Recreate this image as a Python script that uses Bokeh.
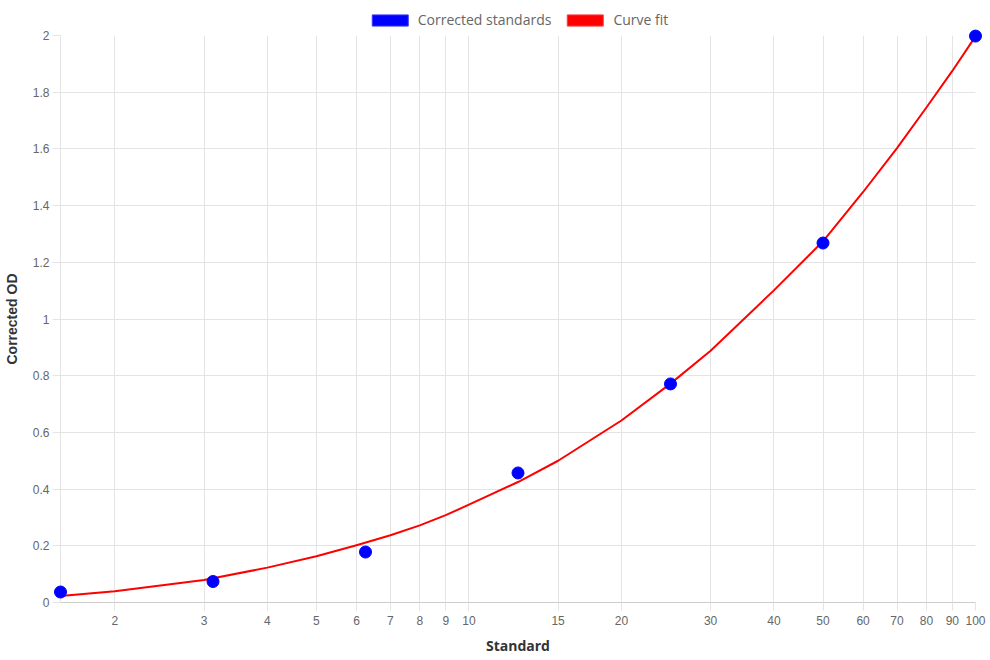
from bokeh.plotting import figure
from bokeh.layouts import column
from bokeh.models import FixedTicker, Legend, LegendItem, Range1d, ColumnDataSource
from bokeh.embed import file_html
from bokeh.resources import INLINE

# Standards: concentration vs corrected OD
standard = [1.5625, 3.125, 6.25, 12.5, 25, 50, 100]
corrected_od = [0.037, 0.074, 0.178, 0.457, 0.771, 1.268, 1.998]

# Fitted curve sampled along the standard range
fit_x = [1.5625, 2, 3, 4, 5, 6, 7, 8, 9, 10, 12.5, 15, 20, 25, 30, 40, 50, 60, 70, 80, 90, 100]
fit_y = [0.023, 0.040, 0.079, 0.123, 0.163, 0.202, 0.237, 0.272, 0.308, 0.345, 0.425,
         0.500, 0.642, 0.772, 0.888, 1.101, 1.274, 1.448, 1.603, 1.746, 1.875, 1.997]

x_ticks = [2, 3, 4, 5, 6, 7, 8, 9, 10, 15, 20, 30, 40, 50, 60, 70, 80, 90, 100]
x_tick_labels = [str(t) for t in x_ticks]
y_ticks = [0, 0.2, 0.4, 0.6, 0.8, 1, 1.2, 1.4, 1.6, 1.8, 2]
y_tick_labels = ["0", "0.2", "0.4", "0.6", "0.8", "1", "1.2", "1.4", "1.6", "1.8", "2"]

series_names = ["Corrected standards", "Curve fit"]
series_colors = ["#0000ff", "#ff0000"]
series_borders = ["#3a3aff", "#ff3a3a"]

GRID = "#e4e4e4"
TICK_FONT = "Liberation Sans"
TITLE_FONT = "Open Sans"
NAN = float("nan")
LEGEND_H = 29

# ---- legend strip across the top ----
top = figure(width=990, height=LEGEND_H, x_range=Range1d(0, 1), y_range=Range1d(0, 1),
             output_backend="svg", toolbar_location=None,
             min_border=0, x_axis_location=None, y_axis_location=None)
top.outline_line_color = None
top.xgrid.visible = False
top.ygrid.visible = False

items = []
for name, fill, border in zip(series_names, series_colors, series_borders):
    # swatch renderer with no visible extent, used only for its legend box
    sw = top.quad(left=[NAN], right=[NAN], top=[NAN], bottom=[NAN],
                  fill_color=fill, line_color=border)
    items.append(LegendItem(label=name, renderers=[sw]))

legend = Legend(items=items, orientation="horizontal", location="bottom_center",
                glyph_width=45, glyph_height=14, label_standoff=6, spacing=11,
                padding=4, margin=0, border_line_color=None, background_fill_alpha=0,
                label_text_font=TITLE_FONT, label_text_font_size="14px",
                label_text_color="#666666")
top.add_layout(legend, "center")

# ---- main chart ----
p = figure(width=990, height=660 - LEGEND_H, x_axis_type="log",
           x_range=Range1d(1.5625, 100), y_range=Range1d(0, 2),
           output_backend="svg", toolbar_location=None,
           min_border_left=59, min_border_right=15, min_border_top=35 - LEGEND_H,
           min_border_bottom=58)
p.outline_line_color = None
p.background_fill_color = "white"

fit_src = ColumnDataSource(dict(x=fit_x, y=fit_y))
std_src = ColumnDataSource(dict(x=standard, y=corrected_od))

p.line("x", "y", source=fit_src, line_color=series_colors[1], line_width=2,
       line_join="round")
# markers drawn on the overlay level so edge points are not cut by the frame
p.scatter("x", "y", source=std_src, size=12, fill_color=series_colors[0],
          line_color=series_colors[0], level="overlay")

p.xaxis.ticker = FixedTicker(ticks=x_ticks)
p.xaxis.major_label_overrides = dict(zip(x_ticks, x_tick_labels))
p.yaxis.ticker = FixedTicker(ticks=y_ticks)
p.yaxis.major_label_overrides = dict(zip(y_ticks, y_tick_labels))

for ax in (p.xaxis, p.yaxis):
    ax.major_tick_in = 0
    ax.major_tick_out = 8
    ax.minor_tick_out = 0
    ax.minor_tick_in = 0
    ax.major_tick_line_color = GRID
    ax.major_label_text_font = TICK_FONT
    ax.major_label_text_font_size = "12px"
    ax.major_label_text_color = "#666666"
    ax.axis_label_text_font_size = "14px"
    ax.axis_label_text_color = "#333333"
    ax.axis_label_text_font_style = "bold"

p.xaxis.axis_line_color = "#cccccc"
p.yaxis.axis_line_color = GRID
p.xaxis.major_label_standoff = 5
p.yaxis.major_label_standoff = 3
p.xaxis.axis_label = "Standard"
p.xaxis.axis_label_text_font = TITLE_FONT
p.xaxis.axis_label_standoff = 8
p.yaxis.axis_label = "Corrected OD"
p.yaxis.axis_label_text_font = TICK_FONT
p.yaxis.axis_label_standoff = 10

p.xgrid.ticker = FixedTicker(ticks=x_ticks)
p.ygrid.ticker = FixedTicker(ticks=y_ticks)
p.xgrid.grid_line_color = GRID
p.ygrid.grid_line_color = GRID
p.xgrid.minor_grid_line_color = None

layout = column(top, p, spacing=0)
open("out.html", "w").write(file_html(layout, INLINE))
